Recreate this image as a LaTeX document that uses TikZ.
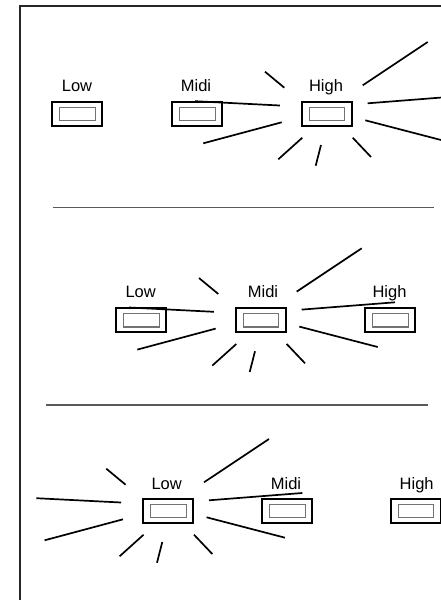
\documentclass[tikz,border=0pt]{standalone}
\usepackage{fontspec}
\setmainfont{Liberation Sans}
\tikzset{
  outerbox/.style={draw=black, line width=1.8pt, minimum width=50pt, minimum height=24pt, inner sep=0pt},
  innerbox/.style={draw=black!55, line width=1.1pt, minimum width=35.5pt, minimum height=13.3pt, inner sep=0pt},
  lbl/.style={font=\fontsize{16.5}{19}\selectfont, anchor=base, inner sep=0pt},
  ray/.style={line width=1.7pt},
  sepline/.style={draw=black!65, line width=1.2pt},
  frameline/.style={draw=black!85, line width=1.5pt},
}
\newcommand\burstrays{%
  \draw[ray] (-62,-42.3) -- (-42.7,-26.3);
  \draw[ray] (-132,-12.8) -- (-47.2,-8.5);
  \draw[ray] (-123.7,29.3) -- (-45.3,8.3);
  \draw[ray] (-48.7,45.3) -- (-24.7,23.7);
  \draw[ray] (-11.3,51.7) -- (-6,31);
  \draw[ray] (25.7,23.7) -- (44,43);
  \draw[ray] (38.3,6.3) -- (116.7,26.7);
  \draw[ray] (40.7,-10.7) -- (134,-18);
  \draw[ray] (35.7,-28.7) -- (100.7,-72);
}
\newcommand\switch[3]{% name, x, y
  \node[outerbox] (#1) at (#2,#3) {};
  \node[innerbox] (#1in) at (#2,#3) {};
}
\begin{document}
\begin{tikzpicture}[x=1pt,y=-1pt]
  \useasboundingbox (0,0) rectangle (441,600);
  \clip (0,0) rectangle (441,600);
  \draw[frameline] (20,610) -- (20,6) -- (450,6);
  % panel 1
  \switch{aL}{77.3}{114}
  \switch{aM}{197.3}{114}
  \switch{aH}{327}{114}
  \node[lbl] (aLl) at (77,91) {Low};
  \node[lbl] (aMl) at (196,91) {Midi};
  \node[lbl] (aHl) at (326,91) {High};
  \begin{scope}[shift={(aH.center)}]\burstrays\end{scope}
  % separator
  \coordinate (s1a) at (52.7,207.3);
  \coordinate (s1b) at (434.3,207.3);
  \draw[sepline] (s1a) -- (s1b);
  % panel 2
  \switch{bL}{141.3}{320.3}
  \switch{bM}{261}{320.3}
  \switch{bH}{390.3}{320.3}
  \node[lbl] (bLl) at (140.7,297.8) {Low};
  \node[lbl] (bMl) at (263,297.8) {Midi};
  \node[lbl] (bHl) at (389.5,297.8) {High};
  \begin{scope}[shift={(bM.center)}]\burstrays\end{scope}
  % separator
  \coordinate (s2a) at (46,405);
  \coordinate (s2b) at (427.7,405);
  \draw[sepline] (s2a) -- (s2b);
  % panel 3
  \switch{cL}{168.3}{511}
  \switch{cM}{287.3}{511}
  \switch{cH}{416}{511}
  \node[lbl] (cLl) at (166.7,489) {Low};
  \node[lbl] (cMl) at (286,489) {Midi};
  \node[lbl] (cHl) at (416.7,489) {High};
  \begin{scope}[shift={(cL.center)}]\burstrays\end{scope}
\end{tikzpicture}
\end{document}
